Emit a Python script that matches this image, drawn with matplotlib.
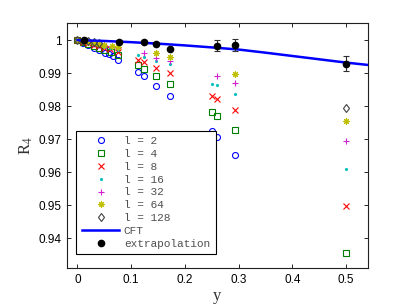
import matplotlib
matplotlib.use("Agg")
import matplotlib.pyplot as plt
import numpy as np

# Finite-size data R_4 vs y for each l
x_l2 = [0.0, 0.01, 0.02, 0.03, 0.04, 0.051, 0.058, 0.066, 0.075, 0.113, 0.123, 0.147, 0.172, 0.251, 0.26, 0.293]
r_l2 = [1.0, 0.9992, 0.9985, 0.9977, 0.9969, 0.9962, 0.9957, 0.9951, 0.9941, 0.9905, 0.9891, 0.9861, 0.9831, 0.9726, 0.9707, 0.9651]

x_l4 = [0.0, 0.01, 0.02, 0.03, 0.04, 0.05, 0.063, 0.075, 0.113, 0.123, 0.147, 0.172, 0.251, 0.26, 0.293, 0.5]
r_l4 = [1.0, 0.9994, 0.9988, 0.9982, 0.9976, 0.9970, 0.9963, 0.9954, 0.9926, 0.9914, 0.9892, 0.9868, 0.9782, 0.9770, 0.9729, 0.9356]

x_l8 = [0.0, 0.01, 0.02, 0.03, 0.04, 0.05, 0.06, 0.075, 0.113, 0.123, 0.147, 0.172, 0.251, 0.26, 0.293, 0.5]
r_l8 = [1.0, 0.99955, 0.9991, 0.99865, 0.9982, 0.99775, 0.9973, 0.9965, 0.9941, 0.9934, 0.9917, 0.9901, 0.9832, 0.9822, 0.9789, 0.9499]

x_l16 = [0.0, 0.01, 0.02, 0.03, 0.04, 0.05, 0.06, 0.075, 0.113, 0.123, 0.147, 0.172, 0.251, 0.26, 0.293, 0.5]
r_l16 = [1.0, 0.9996, 0.9992, 0.9988, 0.9984, 0.9980, 0.9976, 0.9970, 0.9954, 0.9949, 0.9937, 0.9927, 0.9868, 0.9863, 0.9837, 0.9611]

x_l32 = [0.0, 0.01, 0.02, 0.03, 0.04, 0.053, 0.065, 0.075, 0.123, 0.147, 0.172, 0.26, 0.293, 0.5]
r_l32 = [1.0, 0.99965, 0.9993, 0.99895, 0.9986, 0.9982, 0.9978, 0.9975, 0.9961, 0.9947, 0.9936, 0.9891, 0.9871, 0.9694]

x_l64 = [0.0, 0.01, 0.02, 0.03, 0.04, 0.05, 0.065, 0.075, 0.147, 0.172, 0.293, 0.5]
r_l64 = [1.0, 0.9997, 0.9994, 0.9991, 0.9988, 0.9985, 0.9981, 0.9978, 0.9960, 0.9949, 0.9897, 0.9754]

x_l128 = [0.0, 0.01, 0.02, 0.03, 0.04, 0.5]
r_l128 = [1.0, 0.9998, 0.9996, 0.9994, 0.9992, 0.9795]

# CFT prediction
x_cft = [0.0, 0.05, 0.1, 0.15, 0.2, 0.25, 0.3, 0.35, 0.4, 0.45, 0.5, 0.54]
r_cft = [1.0, 0.99975, 0.99938, 0.99893, 0.9984, 0.9978, 0.99715, 0.9962, 0.9952, 0.9942, 0.9932, 0.9925]

# Extrapolated values with error bars
x_ext = [0.012, 0.077, 0.124, 0.147, 0.172, 0.26, 0.293, 0.5]
r_ext = [1.0, 0.9994, 0.9995, 0.9987, 0.9973, 0.9983, 0.9984, 0.9929]
e_ext = [0.0001, 0.0001, 0.0001, 0.0001, 0.0001, 0.0017, 0.0018, 0.0023]

xticks = [0, 0.1, 0.2, 0.3, 0.4, 0.5]
xticklabels = ["0", "0.1", "0.2", "0.3", "0.4", "0.5"]
yticks = [0.94, 0.95, 0.96, 0.97, 0.98, 0.99, 1.0]
yticklabels = ["0.94", "0.95", "0.96", "0.97", "0.98", "0.99", "1"]

plt.rcParams["font.family"] = "Liberation Sans"
plt.rcParams["mathtext.fontset"] = "stix"

fig = plt.figure(figsize=(4.07, 3.06), dpi=100)
ax = fig.add_axes([0.164, 0.124, 0.739, 0.801])

ax.plot(x_l2, r_l2, "o", mfc="none", mec="#0000ff", ms=4.3, mew=0.8, label="l = 2")
ax.plot(x_l4, r_l4, "s", mfc="none", mec="#008000", ms=3.8, mew=0.8, label="l = 4")
ax.plot(x_l8, r_l8, "x", color="#ff0000", ms=3.8, mew=0.8, label="l = 8")
ax.plot(x_l16, r_l16, ".", color="#00bfbf", ms=2.5, label="l = 16")
ax.plot(x_l32, r_l32, "+", color="#d020d0", ms=5, mew=0.8, label="l = 32")
ax.plot(x_l64, r_l64, marker=(8, 2, 0), ls="none", color="#bfbf00", ms=4.5, mew=0.8, label="l = 64")
ax.plot(x_l128, r_l128, "d", mfc="none", mec="#404040", ms=4.3, mew=0.8, label="l = 128")
ax.plot(x_cft, r_cft, "-", color="#0000ff", lw=1.8, label="CFT")
ext = ax.errorbar(x_ext, r_ext, yerr=e_ext, fmt="o", color="black", ms=4.5,
                  ecolor="#303030", elinewidth=0.8, capsize=2.5, capthick=0.8,
                  label="extrapolation")

ax.set_xlim(-0.02, 0.54)
ax.set_ylim(0.931, 1.0052)
ax.set_xticks(xticks)
ax.set_xticklabels(xticklabels)
ax.set_yticks(yticks)
ax.set_yticklabels(yticklabels)
ax.tick_params(direction="in", length=3, width=0.6, labelsize=8.5,
               top=True, right=True, pad=4)
for s in ax.spines.values():
    s.set_linewidth(0.8)
    s.set_color("#202020")

ax.set_xlabel("y", fontfamily="Liberation Serif", fontsize=12, color="#333333", labelpad=2)
ax.set_ylabel(r"R$_4$", fontfamily="Liberation Serif", fontsize=12, color="#333333", labelpad=2)

# legend: the extrapolation entry shows just the dot
handles, labels = ax.get_legend_handles_labels()
handles[-1] = ext[0]
leg = ax.legend(handles, labels, loc="lower left", bbox_to_anchor=(0.031, 0.057),
                borderaxespad=0, prop={"family": "Liberation Mono", "size": 8},
                fancybox=False, framealpha=1, edgecolor="black",
                handlelength=3.4, handletextpad=0.4, labelspacing=0.25,
                borderpad=0.5, numpoints=1)
leg.get_frame().set_linewidth(0.8)
for t in leg.get_texts():
    t.set_color("#505050")

fig.savefig("out.png", dpi=100)
